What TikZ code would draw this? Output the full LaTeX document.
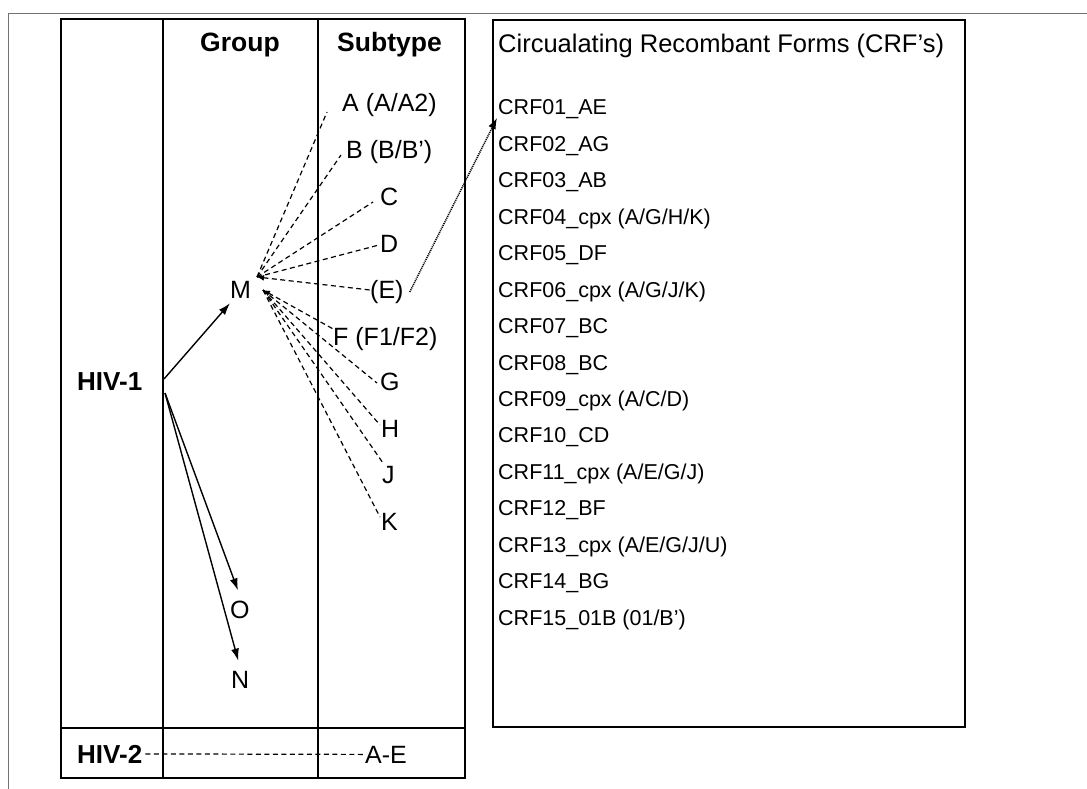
\documentclass[tikz,border=0pt]{standalone}
\usepackage{fontspec}
\setmainfont{Liberation Sans}
\usetikzlibrary{arrows.meta}

\begin{document}
\begin{tikzpicture}[x=1pt,y=-1pt,
  txt/.style={inner sep=0pt, anchor=base west},
  colhead/.style={txt, font=\fontsize{26.5}{30}\selectfont\bfseries},
  crfhead/.style={txt, font=\fontsize{25.5}{30}\selectfont},
  hiv/.style={txt, font=\fontsize{26}{30}\selectfont\bfseries},
  sublbl/.style={txt, font=\fontsize{25}{30}\selectfont},
  crf/.style={txt, font=\fontsize{21.5}{26}\selectfont},
  frameline/.style={draw=black!55, line width=0.8pt},
  tableouter/.style={draw, line width=2.6pt},
  solidarrow/.style={line width=1.4pt, -{Latex[length=12pt,width=8pt]}},
  fanline/.style={line width=1.2pt, dash pattern=on 5pt off 3.5pt},
  fantip/.style={{Latex[length=7pt,width=6pt]}-},
  dotarrow/.style={line width=1.5pt, dash pattern=on 1.1pt off 0.9pt, -{Latex[length=11pt,width=8pt]}},
]
\useasboundingbox (0,0) rectangle (1087,789);

% page frame
\draw[frameline] (8,789) -- (8,13) -- (1087,13);

% left table
\draw[tableouter] (61,19) rectangle (465,778);
\draw[line width=2.2pt] (163,19) -- (163,778);
\draw[line width=1.4pt] (318,19) -- (318,778);
\draw[line width=2.2pt] (61,728) -- (465,728);

% right box
\draw[line width=1.6pt] (493,20) rectangle (965,727);

% headers
\node[colhead] (grp) at (200,52) {Group};
\node[colhead] (sub) at (337,52) {Subtype};
\node[crfhead] (crfh) at (498,53) {Circualating Recombant Forms (CRF’s)};

% row labels
\node[hiv] (hiv1) at (77,390) {HIV-1};
\node[hiv] (hiv2) at (77,763) {HIV-2};
\node[sublbl] (ae) at (365,763) {A-E};

% groups
\node[sublbl] (gM) at (230,298) {M};
\node[sublbl] (gO) at (230,618) {O};
\node[sublbl] (gN) at (231,688) {N};

% subtypes
\node[sublbl] (sA) at (342,112) {A (A/A2)};
\node[sublbl] (sB) at (346,158) {B (B/B')};
\node[sublbl] (sC) at (380,205) {C};
\node[sublbl] (sD) at (380,252) {D};
\node[sublbl] (sE) at (370,298) {(E)};
\node[sublbl] (sF) at (333,345) {F (F1/F2)};
\node[sublbl] (sG) at (380,390) {G};
\node[sublbl] (sH) at (381,437) {H};
\node[sublbl] (sJ) at (382,483) {J};
\node[sublbl] (sK) at (381,530) {K};

% CRF list
\foreach \t [count=\i from 0] in {CRF01\_AE, CRF02\_AG, CRF03\_AB,
  CRF04\_cpx (A/G/H/K), CRF05\_DF, CRF06\_cpx (A/G/J/K), CRF07\_BC,
  CRF08\_BC, CRF09\_cpx (A/C/D), CRF10\_CD, CRF11\_cpx (A/E/G/J),
  CRF12\_BF, CRF13\_cpx (A/E/G/J/U), CRF14\_BG, CRF15\_01B (01/B’)}
  \node[crf] (c\i) at (498,115+36.43*\i) {\t};

% branch points
\coordinate (h1up) at (164,379);
\coordinate (h1dn) at (165,393);
\coordinate (fanTop) at (257,277);
\coordinate (fanBot) at (263,290);

% HIV-1 to groups
\draw[solidarrow] (h1up) -- ([shift={(0,5)}]gM.south west);
\draw[solidarrow] (h1dn) -- ([shift={(-2,-10)}]gO.north);
\draw[solidarrow] (h1dn) -- ([shift={(-2,-10)}]gN.north);

% group M to subtypes
\draw[fanline] (fanTop) -- ([shift={(-15,0)}]sA.base west);
\draw[fanline] (fanTop) -- ([shift={(-5,-3)}]sB.base west);
\draw[fanline] (fanTop) -- ([shift={(-7,-3)}]sC.base west);
\draw[fanline] (fanTop) -- ([shift={(-1,-7)}]sD.base west);
\draw[fanline, fantip] (fanTop) -- ([shift={(0,-8)}]sE.base west);
\draw[fanline, fantip] (fanBot) -- ([shift={(2,-15)}]sF.base west);
\draw[fanline] (fanBot) -- ([shift={(-3,-7)}]sG.base west);
\draw[fanline] (fanBot) -- ([shift={(-1,-12)}]sH.base west);
\draw[fanline] (fanBot) -- ([shift={(1,-20)}]sJ.base west);
\draw[fanline] (fanBot) -- ([shift={(-1,-13)}]sK.base west);

% recombinant link
\draw[dotarrow] ([shift={(6,-6)}]sE.base east) -- ([shift={(-1,3)}]c0.base west);

% HIV-2 to its subtypes
\draw[fanline] ([xshift=3pt]hiv2.east) -- ([xshift=-2pt]ae.west);
\end{tikzpicture}
\end{document}
